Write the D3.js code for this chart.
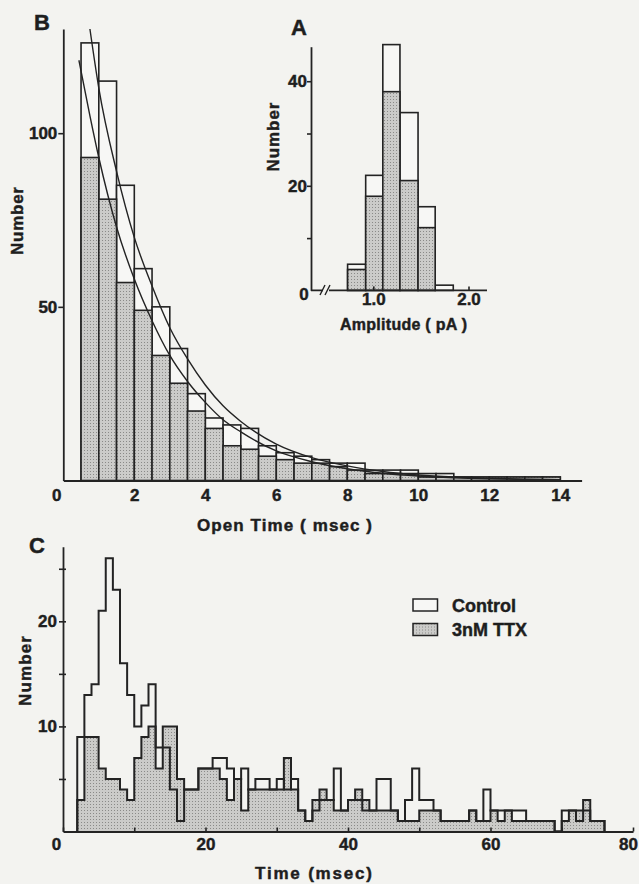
<!DOCTYPE html>
<html>
<head>
<meta charset="utf-8">
<script src="https://d3js.org/d3.v7.min.js"></script>
<style>
  html, body { margin: 0; padding: 0; background: #f3f3f0; }
  svg { display: block; }
  text { font-family: "Liberation Sans", Arial, sans-serif; font-weight: bold; fill: #1e1e1e;
         stroke: #1e1e1e; stroke-width: 0.45px; }
</style>
</head>
<body>
<script>
// ---- panel B : open time histogram (0.5 ms bins) ----
var openBinStart = [0.5, 1.0, 1.5, 2.0, 2.5, 3.0, 3.5, 4.0, 4.5, 5.0, 5.5, 6.0, 6.5, 7.0,
                    7.5, 8.0, 8.5, 9.0, 9.5, 10.0, 10.5, 11.0, 11.5, 12.0, 12.5, 13.0, 13.5];
var openBinWidth = 0.5;
var openControl = [126, 115, 85, 61, 50, 38, 25, 18, 16, 15, 10, 8, 7, 6,
                   5, 5, 3, 3, 3, 2, 2, 1, 1, 1, 1, 1, 1];
var openTTX = [93, 81, 57, 49, 36, 28, 20, 15, 10, 9, 7, 6, 5, 5,
               4, 3, 2, 2, 2, 1, 1, 1, 1, 1, 1, 1, 1];
// fitted curves, points
var openFitControl = [[0.75, 130], [1, 113], [1.5, 89], [2, 70], [2.5, 56], [3, 44], [3.5, 35],
                      [4, 27.5], [4.5, 21.5], [5, 17], [6, 10.5], [7, 6.6], [8, 4.2], [9, 2.6],
                      [10, 1.6], [11, 1], [12, 0.65], [13, 0.4], [14, 0.25]];
var openFitTTX = [[0.44, 121], [0.75, 105], [1, 93], [1.5, 73], [2, 58], [2.5, 46], [3, 36],
                  [3.5, 28.5], [4, 22.5], [4.5, 17.5], [5, 14], [6, 8.5], [7, 5.4], [8, 3.4],
                  [9, 2.1], [10, 1.3], [11, 0.8], [12, 0.5], [13, 0.3], [14, 0.2]];
var openXTicks = [0, 2, 4, 6, 8, 10, 12, 14];
var openYTicks = [50, 100];

// ---- panel A : amplitude histogram (inset) ----
var ampEdges = [0.73, 0.92, 1.10, 1.28, 1.47, 1.65, 1.84];
var ampControl = [5, 22, 47, 34, 16, 1];
var ampTTX = [4, 18, 38, 21, 12, 0];
var ampXTicks = [1.0, 2.0];
var ampYTicks = [10, 20, 30, 40];
var ampYLabels = [20, 40];

// ---- panel C : latency histogram (1 ms bins) ----
var timeBinStart = [2, 3, 4, 5, 6, 7, 8, 9, 10, 11, 12, 13, 14, 15, 16, 17, 18, 19, 20, 21,
                    22, 23, 24, 25, 26, 27, 28, 29, 30, 31, 32, 33, 34, 35, 36, 37, 38, 39, 40, 41,
                    42, 43, 44, 45, 46, 47, 48, 49, 50, 51, 52, 53, 54, 55, 56, 57, 58, 59, 60, 61,
                    62, 63, 64, 65, 66, 67, 68, 69, 70, 71, 72, 73, 74, 75];
var timeControl = [9, 13, 14, 21, 26, 23, 16, 13, 10, 12, 14, 8, 8, 4, 1, 4, 4, 6, 6, 7,
                   7, 6, 5, 6, 4, 5, 5, 4, 5, 4, 5, 2, 1, 2, 3, 3, 6, 2, 3, 3,
                   2, 2, 5, 5, 2, 1, 3, 6, 3, 3, 2, 1, 1, 1, 1, 2, 1, 4, 2, 2,
                   2, 2, 2, 1, 1, 1, 1, 0, 2, 2, 1, 2, 1, 1];
var timeTTX = [3, 9, 9, 6, 5, 5, 4, 3, 7, 9, 10, 6, 10, 10, 5, 4, 4, 6, 6, 6,
               5, 3, 5, 2, 4, 4, 4, 4, 4, 7, 4, 2, 1, 3, 4, 3, 2, 2, 3, 4,
               3, 2, 2, 2, 2, 1, 1, 1, 2, 2, 2, 1, 1, 1, 1, 2, 1, 1, 2, 1,
               2, 1, 1, 1, 1, 1, 1, 0, 1, 2, 2, 3, 1, 1];
var timeBinWidth = 1;
var timeXTicks = [0, 10, 20, 30, 40, 50, 60, 70, 80];
var timeYTicks = [5, 10, 15, 20, 25];

var legendNames = ["Control", "3nM TTX"];

var ink = "#232323";

function styleAxis(g) {
    g.attr("font-size", 17);
    g.select(".domain").attr("stroke", ink).attr("stroke-width", 1.8);
    g.selectAll(".tick line").attr("stroke", ink).attr("stroke-width", 1.6);
    g.selectAll(".tick text").attr("fill", ink);
}

function drawFigure() {
    var svg = d3.select("body").append("svg")
        .attr("width", 639)
        .attr("height", 884);

    // halftone-like fill for the TTX bars
    var pat = svg.append("defs").append("pattern")
        .attr("id", "dots")
        .attr("width", 3).attr("height", 3)
        .attr("patternUnits", "userSpaceOnUse");
    pat.append("rect").attr("width", 3).attr("height", 3).attr("fill", "#cbcbc9");
    pat.append("rect").attr("width", 1).attr("height", 1).attr("fill", "#8a8a88");

    // ================= panel B =================
    var xB = d3.scaleLinear().domain([0, 14.6]).range([63.3, 581.6]);
    var yB = d3.scaleLinear().domain([0, 130]).range([480.5, 29]);
    var gB = svg.append("g");

    gB.selectAll("rect.ctl")
        .data(openBinStart)
        .enter().append("rect")
        .attr("class", "ctl")
        .attr("x", function (d) { return xB(d); })
        .attr("width", function (d) { return xB(d + openBinWidth) - xB(d); })
        .attr("y", function (d, i) { return yB(openControl[i]); })
        .attr("height", function (d, i) { return yB(0) - yB(openControl[i]); })
        .attr("fill", "#f7f7f5")
        .attr("stroke", ink)
        .attr("stroke-width", 1.6);

    gB.selectAll("rect.ttx")
        .data(openBinStart)
        .enter().append("rect")
        .attr("class", "ttx")
        .attr("x", function (d) { return xB(d); })
        .attr("width", function (d) { return xB(d + openBinWidth) - xB(d); })
        .attr("y", function (d, i) { return yB(openTTX[i]); })
        .attr("height", function (d, i) { return yB(0) - yB(openTTX[i]); })
        .attr("fill", "url(#dots)")
        .attr("stroke", ink)
        .attr("stroke-width", 1.6);

    var fitLine = d3.line()
        .x(function (d) { return xB(d[0]); })
        .y(function (d) { return yB(d[1]); })
        .curve(d3.curveMonotoneX);
    [openFitControl, openFitTTX].forEach(function (pts) {
        gB.append("path")
            .attr("d", fitLine(pts))
            .attr("fill", "none")
            .attr("stroke", ink)
            .attr("stroke-width", 1.4);
    });

    gB.append("g")
        .attr("transform", "translate(63.3,0)")
        .call(d3.axisLeft(yB).tickValues(openYTicks).tickSizeInner(5).tickSizeOuter(0).tickPadding(1))
        .call(styleAxis);

    gB.append("g")
        .attr("transform", "translate(0,480.5)")
        .call(d3.axisBottom(xB).tickValues(openXTicks).tickSize(0).tickPadding(8))
        .call(styleAxis)
        .selectAll(".tick text")
        .attr("dx", function (d) { return d === 0 ? -7 : 0; });

    svg.append("text").attr("x", 34).attr("y", 30).attr("font-size", 22).text("B");
    svg.append("text")
        .attr("transform", "translate(23,221) rotate(-90)")
        .attr("text-anchor", "middle")
        .attr("font-size", 17)
        .attr("textLength", 68)
        .text("Number");
    svg.append("text")
        .attr("x", 197).attr("y", 531)
        .attr("font-size", 17)
        .attr("textLength", 175)
        .text("Open Time ( msec )");

    // ================= panel A (inset) =================
    var xA = d3.scaleLinear().domain([1.0, 2.0]).range([373.3, 468.5]);
    var yA = d3.scaleLinear().domain([0, 46.6]).range([290.4, 46.7]);
    var gA = svg.append("g");
    var ampBins = ampControl.map(function (v, i) { return i; });

    gA.selectAll("rect.ctl")
        .data(ampBins)
        .enter().append("rect")
        .attr("class", "ctl")
        .attr("x", function (i) { return xA(ampEdges[i]); })
        .attr("width", function (i) { return xA(ampEdges[i + 1]) - xA(ampEdges[i]); })
        .attr("y", function (i) { return yA(ampControl[i]); })
        .attr("height", function (i) { return yA(0) - yA(ampControl[i]); })
        .attr("fill", "#f7f7f5")
        .attr("stroke", ink)
        .attr("stroke-width", 1.6);

    gA.selectAll("rect.ttx")
        .data(ampBins.filter(function (i) { return ampTTX[i] > 0; }))
        .enter().append("rect")
        .attr("class", "ttx")
        .attr("x", function (i) { return xA(ampEdges[i]); })
        .attr("width", function (i) { return xA(ampEdges[i + 1]) - xA(ampEdges[i]); })
        .attr("y", function (i) { return yA(ampTTX[i]); })
        .attr("height", function (i) { return yA(0) - yA(ampTTX[i]); })
        .attr("fill", "url(#dots)")
        .attr("stroke", ink)
        .attr("stroke-width", 1.6);

    gA.append("g")
        .attr("transform", "translate(311,0)")
        .call(d3.axisLeft(yA).tickValues(ampYTicks).tickSizeInner(4).tickSizeOuter(0).tickPadding(0)
            .tickFormat(function (d) { return ampYLabels.indexOf(d) >= 0 ? d : ""; }))
        .call(styleAxis);

    // x axis with a break near the origin
    gA.append("path")
        .attr("d", "M311,290.4H323 M329,290.4H487")
        .attr("stroke", ink).attr("stroke-width", 1.8).attr("fill", "none");
    gA.append("path")
        .attr("d", "M320,295L325,285 M325,295L330,285")
        .attr("stroke", ink).attr("stroke-width", 1.4).attr("fill", "none");
    gA.append("g")
        .attr("transform", "translate(0,290.4)")
        .call(d3.axisBottom(xA).tickValues(ampXTicks).tickSize(-4).tickPadding(3)
            .tickFormat(d3.format(".1f")))
        .call(styleAxis)
        .select(".domain").remove();
    gA.append("text").attr("x", 304).attr("y", 300).attr("text-anchor", "middle")
        .attr("font-size", 17).text("0");

    svg.append("text").attr("x", 291).attr("y", 35).attr("font-size", 22).text("A");
    svg.append("text")
        .attr("transform", "translate(279,137) rotate(-90)")
        .attr("text-anchor", "middle")
        .attr("font-size", 17)
        .attr("textLength", 69)
        .text("Number");
    svg.append("text")
        .attr("x", 340).attr("y", 330)
        .attr("font-size", 16)
        .attr("textLength", 127)
        .text("Amplitude ( pA )");

    // ================= panel C =================
    var xC = d3.scaleLinear().domain([0, 80]).range([63, 633]);
    var yC = d3.scaleLinear().domain([0, 27.1]).range([831.5, 546.7]);
    var gC = svg.append("g");

    function stepPoints(vals) {
        var pts = [[timeBinStart[0], 0]];
        vals.forEach(function (v, i) { pts.push([timeBinStart[i], v]); });
        var last = timeBinStart[timeBinStart.length - 1] + timeBinWidth;
        pts.push([last, vals[vals.length - 1]]);
        pts.push([last, 0]);
        return pts;
    }
    var stepLine = d3.line()
        .x(function (d) { return xC(d[0]); })
        .y(function (d) { return yC(d[1]); })
        .curve(d3.curveStepAfter);

    gC.append("path")
        .attr("d", stepLine(stepPoints(timeTTX)) + "Z")
        .attr("fill", "url(#dots)")
        .attr("stroke", "none");
    [timeControl, timeTTX].forEach(function (vals) {
        gC.append("path")
            .attr("d", stepLine(stepPoints(vals)))
            .attr("fill", "none")
            .attr("stroke", ink)
            .attr("stroke-width", 2)
            .attr("stroke-linejoin", "miter");
    });

    var yAxC = gC.append("g")
        .attr("transform", "translate(63,0)")
        .call(d3.axisLeft(yC).tickValues(timeYTicks).tickSizeInner(4).tickSizeOuter(0).tickPadding(2)
            .tickFormat(function (d) { return d % 10 === 0 ? d : ""; }))
        .call(styleAxis);
    yAxC.selectAll(".tick line").attr("x1", 3);

    gC.append("g")
        .attr("transform", "translate(0,831.5)")
        .call(d3.axisBottom(xC).tickValues(timeXTicks).tickSizeInner(-4).tickSizeOuter(0).tickPadding(6)
            .tickFormat(function (d) { return d % 20 === 0 ? d : ""; }))
        .call(styleAxis)
        .selectAll(".tick text")
        .attr("dx", function (d) { return d === 0 ? -7 : (d === 80 ? -5 : 0); });

    svg.append("text").attr("x", 29).attr("y", 553).attr("font-size", 22).text("C");
    svg.append("text")
        .attr("transform", "translate(31,671) rotate(-90)")
        .attr("text-anchor", "middle")
        .attr("font-size", 17)
        .attr("textLength", 70)
        .text("Number");
    svg.append("text")
        .attr("x", 255).attr("y", 879)
        .attr("font-size", 17)
        .attr("textLength", 117)
        .text("Time (msec)");

    // legend
    var leg = svg.append("g").selectAll("g")
        .data(legendNames)
        .enter().append("g")
        .attr("transform", function (d, i) { return "translate(413," + (599 + i * 24.5) + ")"; });
    leg.append("rect")
        .attr("width", 24.5).attr("height", 12)
        .attr("fill", function (d, i) { return i === 0 ? "#f7f7f5" : "url(#dots)"; })
        .attr("stroke", ink).attr("stroke-width", 1.5);
    leg.append("text")
        .attr("x", 39).attr("y", 12.5)
        .attr("font-size", 18)
        .text(function (d) { return d; });
}

drawFigure();
</script>
</body>
</html>
